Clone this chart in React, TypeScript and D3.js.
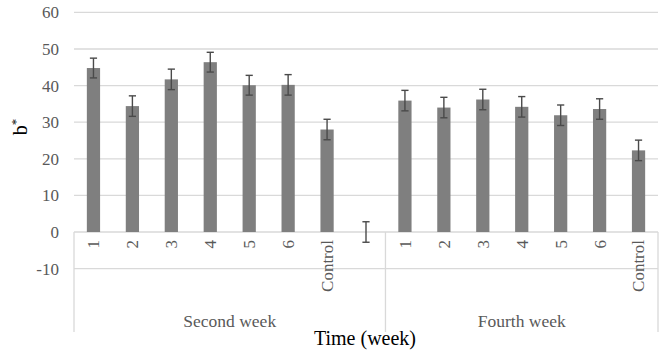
import React from "react";
import * as d3 from "d3";

const groups = ["Second week", "Fourth week"];
const secondLabels = ["1", "2", "3", "4", "5", "6", "Control", ""];
const secondValues = [44.8, 34.4, 41.7, 46.4, 40.1, 40.2, 28.0, 0];
const secondErrors = [2.7, 2.8, 2.8, 2.7, 2.7, 2.8, 2.8, 2.8];
const fourthLabels = ["1", "2", "3", "4", "5", "6", "Control"];
const fourthValues = [35.9, 34.0, 36.2, 34.2, 31.9, 33.6, 22.3];
const fourthErrors = [2.8, 2.8, 2.8, 2.8, 2.8, 2.8, 2.8];
const yTicks = [-10, 0, 10, 20, 30, 40, 50, 60];

const W = 665;
const H = 352;
const left = 74;
const right = 658;
const top = 12.4;
const zeroY = 232;
const bottomY = 332;

const FONT = '"Liberation Serif", Tinos, "Times New Roman", Times, "DejaVu Serif", serif';

export default function App() {
  const items = [
    ...secondLabels.map((l, i) => ({ id: `s${i}`, label: l, v: secondValues[i], e: secondErrors[i], g: 0 })),
    ...fourthLabels.map((l, i) => ({ id: `f${i}`, label: l, v: fourthValues[i], e: fourthErrors[i], g: 1 })),
  ];
  const x = d3.scaleBand<string>().domain(items.map((d) => d.id)).range([left, right]).padding(0);
  const y = d3.scaleLinear().domain([0, 60]).range([zeroY, top]);
  const bw = x.bandwidth() * 0.34;
  const cap = 3.6;
  const sepX = x(`f0`)!;
  const groupSpans = [
    [left, sepX],
    [sepX, right],
  ];

  return (
    <svg width={W} height={H} style={{ position: "absolute", left: 0, top: 0, fontFamily: FONT }}>
      <rect width={W} height={H} fill="#fff" />
      {yTicks.map((t) => (
        <g key={t}>
          <line x1={left} x2={right} y1={y(t)} y2={y(t)} stroke="#d9d9d9" strokeWidth={1.3} />
          <text x={59} y={y(t)} dy="0.35em" textAnchor="end" fontSize={17} fill="#595959" style={{ fontFamily: FONT }}>
            {t}
          </text>
        </g>
      ))}
      {[left, sepX, right].map((vx, i) => (
        <line key={i} x1={vx} x2={vx} y1={zeroY} y2={bottomY} stroke="#d9d9d9" strokeWidth={1.3} />
      ))}
      {items.map((d) => {
        const cx = x(d.id)! + x.bandwidth() / 2;
        return (
          <g key={d.id}>
            {d.v !== 0 && (
              <rect x={cx - bw / 2} y={y(d.v)} width={bw} height={y(0) - y(d.v)} fill="#7f7f7f" />
            )}
            <g stroke="#4a4a4a" strokeWidth={1.4}>
              <line x1={cx} x2={cx} y1={y(d.v + d.e)} y2={y(d.v - d.e)} />
              <line x1={cx - cap} x2={cx + cap} y1={y(d.v + d.e)} y2={y(d.v + d.e)} />
              <line x1={cx - cap} x2={cx + cap} y1={y(d.v - d.e)} y2={y(d.v - d.e)} />
            </g>
            {d.label && (
              <text
                transform={`translate(${cx},240) rotate(-90)`}
                textAnchor="end"
                dy="0.35em"
                fontSize={17}
                fill="#595959"
                style={{ fontFamily: FONT }}
              >
                {d.label}
              </text>
            )}
          </g>
        );
      })}
      {groups.map((g, i) => (
        <text key={g} x={(groupSpans[i][0] + groupSpans[i][1]) / 2} y={327} textAnchor="middle" fontSize={17.5} fill="#595959" style={{ fontFamily: FONT }}>
          {g}
        </text>
      ))}
      <text x={365} y={345} textAnchor="middle" fontSize={20} fill="#000" style={{ fontFamily: FONT }}>
        Time (week)
      </text>
      <text transform={`translate(27,127) rotate(-90)`} textAnchor="middle" fontSize={20} fill="#000" style={{ fontFamily: FONT }}>
        b<tspan dy={-7} fontSize={13}>*</tspan>
      </text>
    </svg>
  );
}
